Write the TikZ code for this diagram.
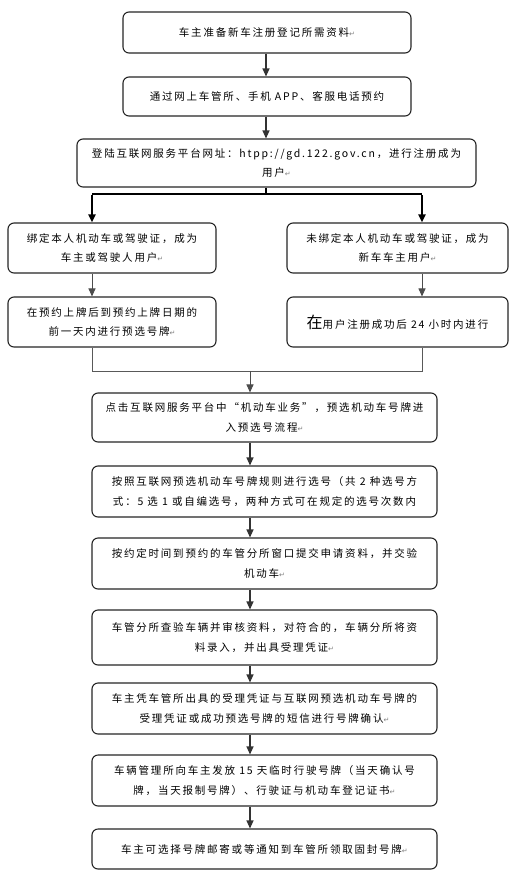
\documentclass[tikz,border=0pt]{standalone}
\usepackage{fontspec}
\usetikzlibrary{arrows.meta}
\newfontfamily\cjk[LetterSpace=17]{Noto Sans CJK SC}
\newfontfamily\dejavu{DejaVu Sans}
\newcommand\pmk{{\dejavu\fontsize{7}{7}\selectfont\color{gray}↵}}
\begin{document}
\begin{tikzpicture}[x=1pt,y=-1pt,
  flowbox/.style={draw=black!85,line width=1.1pt,rounded corners=6pt,align=center,
    inner sep=0pt,font=\cjk\fontsize{10.5}{19.5}\selectfont},
  arr/.style={draw=black!80,line width=1.2pt,-{Triangle[width=7pt,length=8pt]}},
  thinline/.style={draw=black!65,line width=1pt},
  thinarr/.style={draw=black!70,line width=1pt,-{Triangle[width=7pt,length=8pt]}},
  branch/.style={draw=black,line width=2pt}]
\useasboundingbox (0,0) rectangle (516,892);
\fill[white] (0,0) rectangle (516,892);
% top
\node[flowbox,minimum width=288pt,minimum height=41pt] (b1) at (267,32.5) {车主准备新车注册登记所需资料\pmk};
\node[flowbox,minimum width=288pt,minimum height=39pt] (b2) at (267,96.5) {通过网上车管所、手机 APP、客服电话预约};
\node[flowbox,minimum width=399pt,minimum height=48pt] (b3) at (276.5,163) {登陆互联网服务平台网址：htpp://gd.122.gov.cn，进行注册成为\\用户\pmk};
% branches
\node[flowbox,minimum width=208pt,minimum height=50pt] (ba) at (112,248) {绑定本人机动车或驾驶证，成为\\车主或驾驶人用户\pmk};
\node[flowbox,minimum width=221pt,minimum height=50pt] (bb) at (397.5,248) {未绑定本人机动车或驾驶证，成为\\新车车主用户\pmk};
\node[flowbox,minimum width=208pt,minimum height=50pt] (bc) at (112,322) {在预约上牌后到预约上牌日期的\\前一天内进行预选号牌\pmk};
\node[flowbox,minimum width=221pt,minimum height=50pt] (bd) at (397.5,322) {{\fontsize{16}{19.5}\selectfont 在}用户注册成功后 24 小时内进行};
% lower chain
\node[flowbox,minimum width=345pt,minimum height=49pt] (be) at (264.5,417.5) {点击互联网服务平台中“机动车业务”，预选机动车号牌进\\入预选号流程\pmk};
\node[flowbox,minimum width=345pt,minimum height=51pt] (bf) at (264.5,491.5) {按照互联网预选机动车号牌规则进行选号（共 2 种选号方\\式：5 选 1 或自编选号，两种方式可在规定的选号次数内};
\node[flowbox,minimum width=345pt,minimum height=51pt] (bg) at (264.5,563.5) {按约定时间到预约的车管分所窗口提交申请资料，并交验\\机动车\pmk};
\node[flowbox,minimum width=345pt,minimum height=55pt] (bh) at (264.5,637.5) {车管分所查验车辆并审核资料，对符合的，车辆分所将资\\料录入，并出具受理凭证\pmk};
\node[flowbox,minimum width=345pt,minimum height=51pt] (bi) at (264.5,708.5) {车主凭车管所出具的受理凭证与互联网预选机动车号牌的\\受理凭证或成功预选号牌的短信进行号牌确认\pmk};
\node[flowbox,minimum width=345pt,minimum height=51pt] (bj) at (264.5,780.5) {车辆管理所向车主发放 15 天临时行驶号牌（当天确认号\\牌，当天报制号牌）、行驶证与机动车登记证书\pmk};
\node[flowbox,minimum width=345pt,minimum height=40pt] (bk) at (264.5,849) {车主可选择号牌邮寄或等通知到车管所领取固封号牌\pmk};
% coordinates
\coordinate (top) at (266,0);
\coordinate (br) at (266,194);
\coordinate (brL) at (92,194);
\coordinate (brR) at (422,194);
\coordinate (mgL) at (92,371);
\coordinate (mgR) at (422,371);
\coordinate (mg) at (250,371);
% connectors
\draw[arr] (top |- b1.south) -- (top |- b2.north);
\draw[arr] (top |- b2.south) -- (top |- b3.north);
\draw[branch] (top |- b3.south) -- (br);
\draw[branch] (brL) -- (brR);
\draw[branch,-{Triangle[width=7pt,length=8pt]}] ([yshift=-1pt]brL) -- (brL |- ba.north);
\draw[branch,-{Triangle[width=7pt,length=8pt]}] ([yshift=-1pt]brR) -- (brR |- bb.north);
\draw[thinarr] (brL |- ba.south) -- (brL |- bc.north);
\draw[thinarr] (brR |- bb.south) -- (brR |- bd.north);
\draw[thinline] (brL |- bc.south) -- (mgL) -- (mgR) -- (brR |- bd.south);
\draw[thinarr] (mg) -- (mg |- be.north);
\draw[arr] (mg |- be.south) -- (mg |- bf.north);
\draw[arr] (mg |- bf.south) -- (mg |- bg.north);
\draw[arr] (mg |- bg.south) -- (mg |- bh.north);
\draw[arr] (mg |- bh.south) -- (mg |- bi.north);
\draw[arr] (mg |- bi.south) -- (mg |- bj.north);
\draw[arr] (mg |- bj.south) -- (mg |- bk.north);
\end{tikzpicture}
\end{document}
